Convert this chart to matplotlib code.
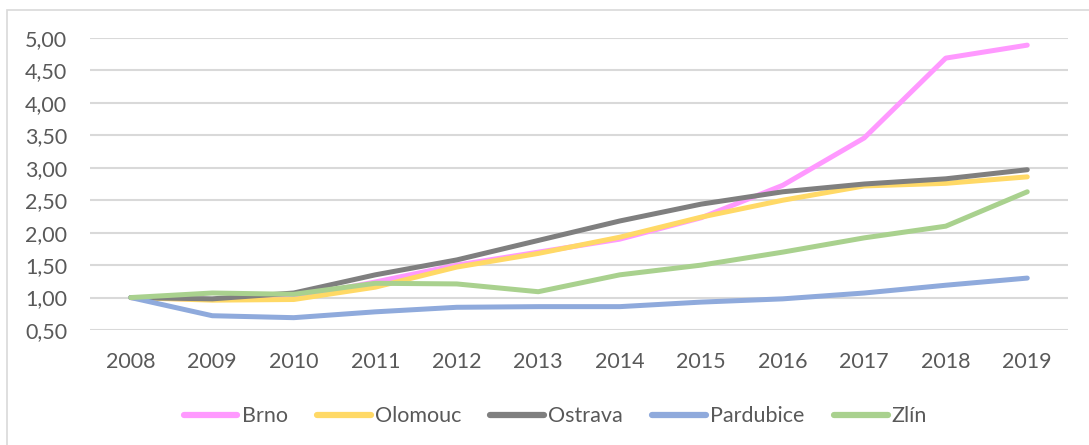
import matplotlib
matplotlib.use("Agg")
import matplotlib.pyplot as plt
from matplotlib.ticker import FuncFormatter
from matplotlib.lines import Line2D

years = ["2008", "2009", "2010", "2011", "2012", "2013", "2014", "2015", "2016", "2017", "2018", "2019"]
brno = [1.00, 0.97, 1.00, 1.24, 1.50, 1.70, 1.90, 2.23, 2.73, 3.46, 4.69, 4.89]
olomouc = [1.00, 0.96, 0.97, 1.16, 1.47, 1.68, 1.93, 2.24, 2.50, 2.72, 2.76, 2.86]
ostrava = [1.00, 0.98, 1.07, 1.35, 1.58, 1.88, 2.18, 2.44, 2.63, 2.75, 2.83, 2.97]
pardubice = [1.00, 0.72, 0.69, 0.78, 0.85, 0.86, 0.86, 0.93, 0.98, 1.07, 1.19, 1.30]
zlin = [1.00, 1.07, 1.05, 1.22, 1.21, 1.09, 1.35, 1.50, 1.70, 1.92, 2.10, 2.63]

series_names = ["Brno", "Olomouc", "Ostrava", "Pardubice", "Zlín"]
series_values = [brno, olomouc, ostrava, pardubice, zlin]
colors = ["#FF99FF", "#FFD966", "#7F7F7F", "#8FAADC", "#A9D18E"]

plt.rcParams['font.family'] = ['Lato', 'DejaVu Sans']
text_color = "#595959"

fig = plt.figure(figsize=(10.89, 4.45), dpi=100)
ax = fig.add_axes([90/1089, 1 - 330/445, (1068 - 90)/1089, (330 - 38)/445])

x = list(range(len(years)))
for name, vals, c in zip(series_names, series_values, colors):
    ax.plot(x, vals, color=c, lw=3.6, solid_capstyle='round', solid_joinstyle='round', label=name)

ax.set_xlim(-0.5, len(years) - 0.5)
ax.set_ylim(0.5, 5.0)
ax.set_yticks([0.5 + 0.5 * i for i in range(10)])
ax.yaxis.set_major_formatter(FuncFormatter(lambda v, p: f"{v:.2f}".replace(".", ",")))
ax.set_xticks(x)
ax.set_xticklabels(years)
ax.grid(axis='y', color="#D9D9D9", lw=1.5)
ax.set_axisbelow(True)
for s in ax.spines.values():
    s.set_visible(False)
ax.tick_params(axis='both', length=0, labelsize=15.5, colors=text_color)
ax.tick_params(axis='y', pad=16.5)
ax.tick_params(axis='x', pad=16)

handles = [Line2D([0], [0], color=c, lw=4.5, solid_capstyle='round') for c in colors]
leg = fig.legend(handles, series_names, loc='center', bbox_to_anchor=(0.51, 0.065), ncol=5,
                 frameon=False, fontsize=15.5, handlelength=2.5, handletextpad=0.2,
                 columnspacing=1.35)
for t in leg.get_texts():
    t.set_color(text_color)

# chart outer border (left and top visible)
fig.add_artist(plt.Rectangle((7/1089, -0.1), 1.2, 1 - 10/445 + 0.1, transform=fig.transFigure,
                             fill=False, edgecolor="#D9D9D9", lw=1.2))

fig.savefig("out.png", dpi=100)
